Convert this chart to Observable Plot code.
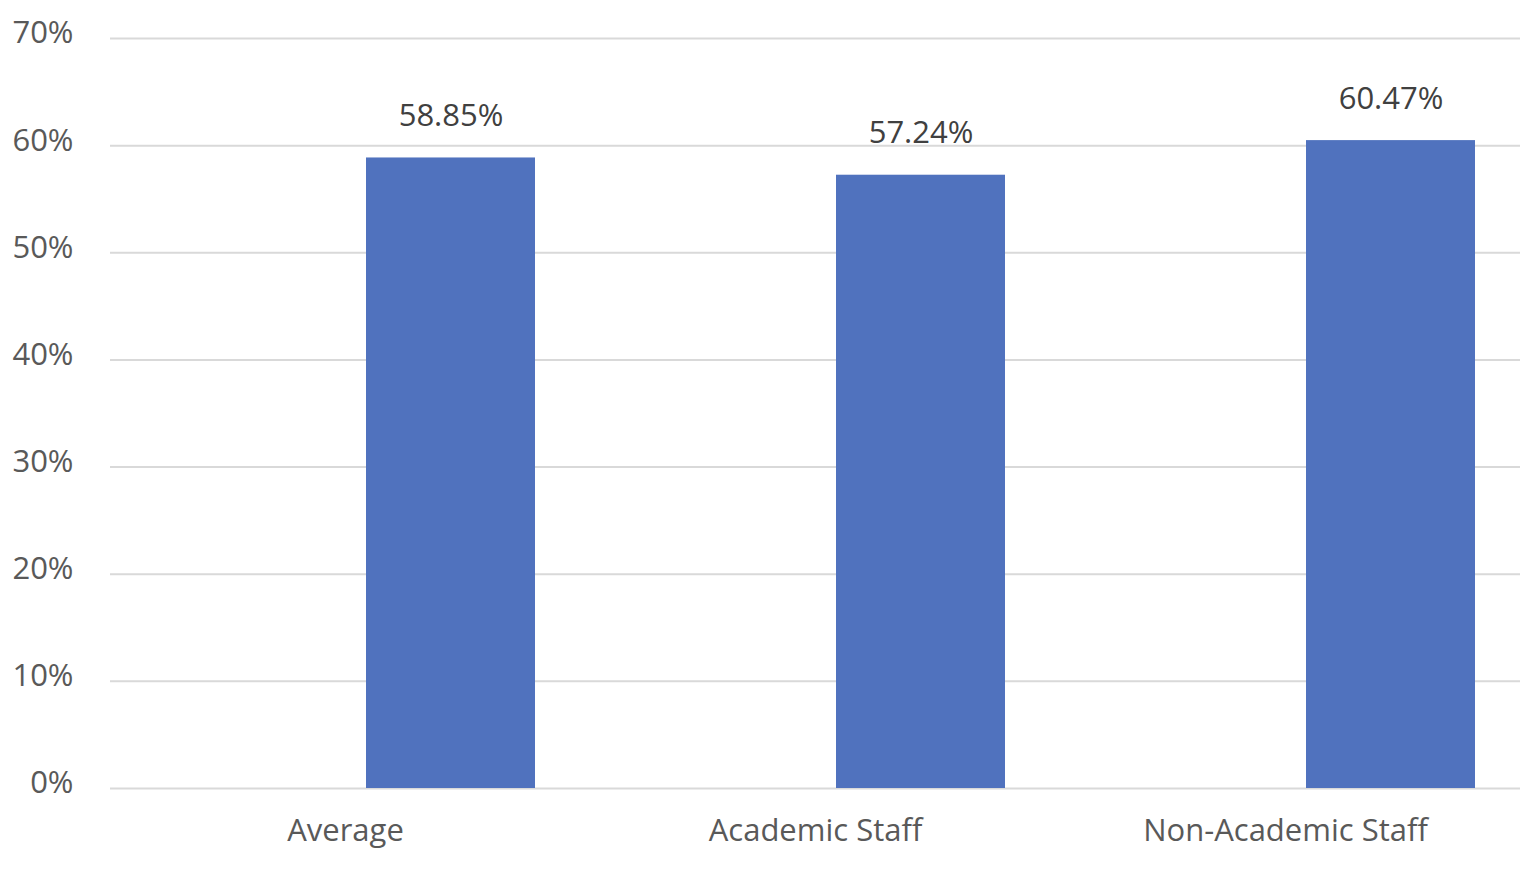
<!DOCTYPE html>
<html>
<head>
<meta charset="utf-8">
<script src="https://cdn.jsdelivr.net/npm/d3@7"></script>
<script src="https://cdn.jsdelivr.net/npm/@observablehq/plot@0.6"></script>
<style>
  html, body { margin: 0; padding: 0; background: #fff; }
  #chart svg { display: block; }
</style>
</head>
<body>
<div id="chart"></div>
<script>
const categories = ["Average", "Academic Staff", "Non-Academic Staff"];
const values = [58.85, 57.24, 60.47];
const yTicks = [0, 10, 20, 30, 40, 50, 60, 70];

const data = categories.map((c, i) => ({category: c, value: values[i]}));

const textColor = "#595959";
const font = "'Open Sans', sans-serif";
const fs = 31;

const chart = Plot.plot({
  width: 1520,
  height: 878,
  marginLeft: 110,
  marginRight: 0,
  marginTop: 38,
  marginBottom: 90,
  style: {fontFamily: font, fontSize: fs + "px", color: textColor, background: "#fff"},
  x: {domain: categories, padding: 0, label: null},
  y: {domain: [0, 70], label: null},
  marks: [
    Plot.gridY(yTicks, {stroke: "#d9d9d9", strokeOpacity: 1, strokeWidth: 2}),
    Plot.barY(data, {x: "category", y: "value", fill: "#5072be", insetLeft: 256, insetRight: 45}),
    Plot.text(data, {
      x: "category", y: "value",
      text: d => d.value.toFixed(2) + "%",
      dx: 105.5, dy: -42,
      fill: "#404040", fontSize: fs, fontFamily: font
    }),
    Plot.axisY(yTicks, {
      tickSize: 0, tickPadding: 37, tickFormat: d => d + "%", dy: -5,
      fill: textColor, fontSize: fs, fontFamily: font, label: null
    }),
    Plot.axisX({
      tickSize: 0, tickPadding: 30, fill: textColor, fontSize: fs, fontFamily: font, label: null
    })
  ]
});
document.getElementById("chart").appendChild(chart);
</script>
</body>
</html>
